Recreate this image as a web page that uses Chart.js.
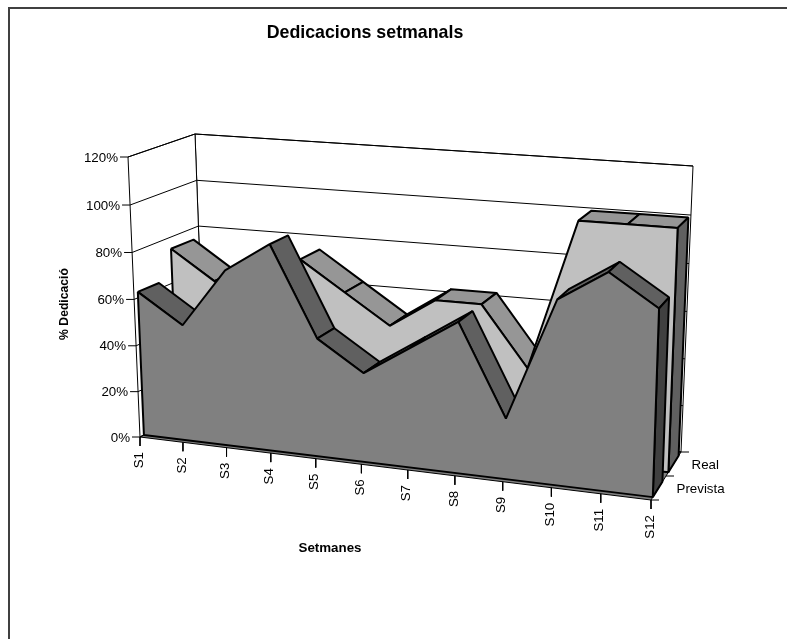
<!DOCTYPE html>
<html>
<head>
<meta charset="utf-8">
<script src="https://cdn.jsdelivr.net/npm/chart.js@4"></script>
<style>
  html, body { margin: 0; padding: 0; background: #fff; }
  canvas { display: block; }
</style>
</head>
<body>
<canvas id="dedicacions" width="787" height="639"></canvas>
<script>
const categories = ["S1", "S2", "S3", "S4", "S5", "S6", "S7", "S8", "S9", "S10", "S11", "S12"];
const prevista = [62.5, 50, 75, 87.5, 50, 37.5, 50, 62.5, 25, 75, 87.5, 75];
const real = [75, 62.5, 50, 75, 62.5, 50, 62.5, 62.5, 37.5, 100, 100, 100];
const valueTicks = [0, 20, 40, 60, 80, 100, 120];
const seriesNames = ["Prevista", "Real"];

const FONT = '"Liberation Sans", Arial, sans-serif';
const valueMax = valueTicks[valueTicks.length - 1];

// screen corners of the 3d box, [category end][depth][value end]
const box = [
  [[[140, 437], [128, 157]], [[205, 404], [195, 134]]],
  [[[651, 500], [661, 193]], [[681, 452], [693, 166]]],
];

// perspective squeeze along an axis
function warp(t, r) {
  return t / (t + (1 - t) * r);
}

function mix(a, b, t) {
  return a + (b - a) * t;
}

function project(catPos, depth, pct) {
  const u = warp(catPos / (categories.length - 1), 1.09);
  const v = warp(pct / valueMax, 1.035);
  const at = (k) =>
    mix(
      mix(mix(box[0][0][0][k], box[0][0][1][k], v), mix(box[0][1][0][k], box[0][1][1][k], v), depth),
      mix(mix(box[1][0][0][k], box[1][0][1][k], v), mix(box[1][1][0][k], box[1][1][1][k], v), depth),
      u
    );
  return { x: at(0), y: at(1) };
}

const datasets = [];

function addFace(points, fillColor, lineWidth, lineColor) {
  datasets.push({
    data: fillColor ? points.concat([points[0]]) : points,
    faceFill: fillColor,
    borderColor: lineColor || "#000",
    borderWidth: lineWidth,
    borderJoinStyle: "bevel",
    pointRadius: 0,
    showLine: true,
    fill: false,
    tension: 0,
    clip: false,
  });
}

const last = categories.length - 1;

// walls and floor
addFace([project(0, 1, 0), project(0, 1, valueMax), project(last, 1, valueMax), project(last, 1, 0)], "#fff", 1);
addFace([project(0, 0, 0), project(0, 0, valueMax), project(0, 1, valueMax), project(0, 1, 0)], "#fff", 1);
addFace([project(0, 0, 0), project(last, 0, 0), project(last, 1, 0), project(0, 1, 0)], "#808080", 1);

valueTicks.forEach((tick) => {
  addFace([project(0, 0, tick), project(0, 1, tick), project(last, 1, tick)], null, 1);
  const front = project(0, 0, tick);
  addFace([front, { x: front.x - 8, y: front.y }], null, 1);
});

categories.forEach((name, i) => {
  const front = project(i, 0, 0);
  addFace([front, { x: front.x, y: front.y + 9 }], null, 1);
});

[0, 0.5, 1].forEach((depth) => {
  const side = project(last, depth, 0);
  addFace([side, { x: side.x + 8, y: side.y }], null, 1);
});

// one solid per series, back one first
function addSeries(values, zFront, zBack, topColor, endColor, frontColor) {
  for (let i = 0; i < last; i++) {
    const a = project(i, zFront, values[i]);
    const b = project(i + 1, zFront, values[i + 1]);
    const c = project(i + 1, zBack, values[i + 1]);
    const d = project(i, zBack, values[i]);
    // skip the slopes that face away from the viewer
    const facing = (b.x - a.x) * (d.y - a.y) - (b.y - a.y) * (d.x - a.x);
    if (facing < 0) addFace([a, b, c, d], topColor, 2);
  }
  addFace(
    [project(last, zFront, 0), project(last, zFront, values[last]), project(last, zBack, values[last]), project(last, zBack, 0)],
    endColor,
    2
  );
  const outline = values.map((val, i) => project(i, zFront, val));
  addFace([project(0, zFront, 0)].concat(outline, [project(last, zFront, 0)]), frontColor, 2);
}

addSeries(real, 0.58, 0.92, "#969696", "#606060", "#c0c0c0");
addSeries(prevista, 0.06, 0.38, "#606060", "#404040", "#808080");

// first face has to be painted first
datasets.forEach((ds, i) => {
  ds.order = datasets.length - i;
});

const facePlugin = {
  id: "faces",
  beforeDatasetDraw(chart, args) {
    const ds = chart.data.datasets[args.index];
    if (!ds.faceFill) return;
    const pts = args.meta.data;
    const ctx = chart.ctx;
    ctx.save();
    ctx.beginPath();
    pts.forEach((p, i) => (i ? ctx.lineTo(p.x, p.y) : ctx.moveTo(p.x, p.y)));
    ctx.closePath();
    ctx.fillStyle = ds.faceFill;
    ctx.fill();
    ctx.restore();
  },
};

const textPlugin = {
  id: "texts",
  afterDraw(chart) {
    const ctx = chart.ctx;
    const sx = chart.scales.x;
    const sy = chart.scales.y;
    const put = (text, x, y, font, align, rotate) => {
      ctx.save();
      ctx.translate(sx.getPixelForValue(x), sy.getPixelForValue(y));
      if (rotate) ctx.rotate(-Math.PI / 2);
      ctx.font = font;
      ctx.fillStyle = "#000";
      ctx.textAlign = align;
      ctx.textBaseline = "middle";
      ctx.fillText(text, 0, 0);
      ctx.restore();
    };
    const normal = "13.33px " + FONT;

    // frame, only top and left are on the picture
    ctx.save();
    ctx.strokeStyle = "#404040";
    ctx.lineWidth = 2;
    ctx.beginPath();
    ctx.moveTo(9, 639);
    ctx.lineTo(9, 8);
    ctx.lineTo(787, 8);
    ctx.stroke();
    ctx.restore();

    put("Dedicacions setmanals", 365, 33, "bold 17.8px " + FONT, "center");
    put("Setmanes", 330, 548, "bold 13.33px " + FONT, "center");
    put("% Dedicació", 65, 304, "bold 12.2px " + FONT, "center", true);

    valueTicks.forEach((tick) => {
      const p = project(0, 0, tick);
      put(tick + "%", p.x - 10, p.y + 1, normal, "right");
    });
    categories.forEach((name, i) => {
      const p = project(i, 0, 0);
      put(name, p.x - 1, p.y + 15, normal, "right", true);
    });
    seriesNames.forEach((name, i) => {
      const p = project(last, 0.25 + i * 0.5, 0);
      put(name, p.x + 18, p.y + 1, normal, "left");
    });
  },
};

new Chart(document.getElementById("dedicacions"), {
  type: "scatter",
  data: { datasets },
  options: {
    responsive: false,
    animation: false,
    layout: { padding: 0 },
    plugins: {
      legend: { display: false },
      tooltip: { enabled: false },
    },
    scales: {
      x: { type: "linear", min: 0, max: 787, display: false },
      y: { type: "linear", min: 0, max: 639, reverse: true, display: false },
    },
  },
  plugins: [facePlugin, textPlugin],
});
</script>
</body>
</html>
